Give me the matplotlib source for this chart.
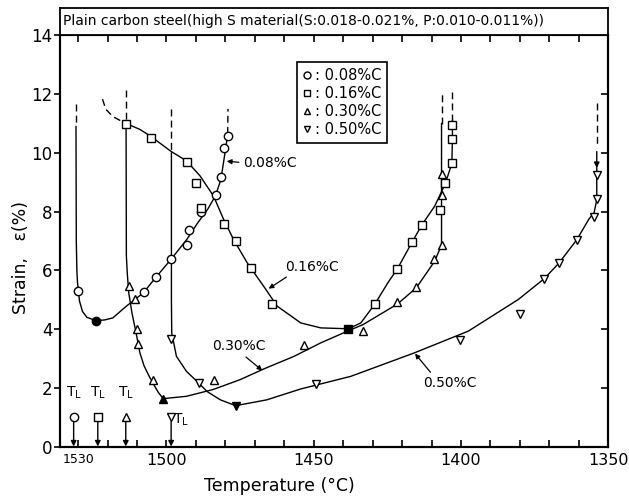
import numpy as np
import matplotlib
matplotlib.use('Agg')
import matplotlib.pyplot as plt
from matplotlib.lines import Line2D

# measured points (temperature degC, strain %)
c08_t = [1529.9, 1507.7, 1503.7, 1498.4, 1493.1, 1492.2, 1488.3, 1483.3, 1481.5, 1480.5, 1479.2]
c08_s = [5.31, 5.27, 5.78, 6.40, 6.88, 7.36, 8.00, 8.57, 9.19, 10.18, 10.57]
c08_min = (1524.0, 4.29)

c16_t = [1513.6, 1505.1, 1492.9, 1490.0, 1488.2, 1480.3, 1476.4, 1471.3, 1464.3,
         1429.3, 1421.6, 1416.6, 1413.2, 1407.2, 1405.3, 1403.1, 1403.0, 1403.0]
c16_s = [11.0, 10.50, 9.68, 8.97, 8.12, 7.57, 6.99, 6.08, 4.87,
         4.84, 6.05, 6.96, 7.56, 8.04, 8.96, 9.64, 10.47, 10.96]
c16_min = (1438.2, 4.01)

c30_t = [1512.6, 1510.8, 1509.9, 1509.6, 1504.6, 1483.7, 1453.3, 1433.3, 1421.6,
         1415.2, 1409.0, 1406.4, 1406.4, 1406.3]
c30_s = [5.48, 5.01, 4.00, 3.49, 2.28, 2.28, 3.45, 3.93, 4.93, 5.43, 6.37, 6.86, 8.56, 9.27]
c30_min = (1501.1, 1.63)

c50_t = [1498.4, 1489.0, 1449.3, 1400.2, 1379.9, 1371.7, 1366.8, 1360.7, 1354.8, 1353.9, 1353.9]
c50_s = [3.67, 2.16, 2.13, 3.64, 4.53, 5.72, 6.24, 7.04, 7.82, 8.44, 9.24]
c50_min = (1476.5, 1.39)

# fitted curves drawn in the figure
c08_line_t = [1530.7, 1530.6, 1530.4, 1530.2, 1529.9, 1529.5, 1528.5, 1527.0, 1524.0, 1521.0,
              1518.2, 1513.6, 1510.5, 1507.7, 1503.7, 1498.4, 1493.1, 1489.5, 1486.0, 1483.3,
              1481.5, 1480.5, 1479.8, 1479.2]
c08_line_s = [10.9, 7.0, 6.0, 5.6, 5.31, 4.95, 4.60, 4.40, 4.29, 4.31,
              4.38, 4.78, 5.02, 5.25, 5.75, 6.38, 7.05, 7.60, 8.08, 8.55,
              9.10, 9.75, 10.20, 10.65]
c08_dash_t = [[1530.7, 1530.7], [1479.2, 1479.1]]
c08_dash_s = [[11.65, 10.9], [10.65, 11.5]]

c16_line_t = [1513.6, 1509.0, 1505.1, 1498.4, 1493.2, 1488.6, 1484.0, 1480.6, 1477.2, 1472.6,
              1467.0, 1462.4, 1454.4, 1447.6, 1438.2, 1434.0, 1429.3, 1424.8, 1421.6, 1416.6,
              1413.2, 1408.9, 1405.3, 1403.1, 1402.9, 1402.9]
c16_line_s = [11.0, 10.80, 10.55, 10.05, 9.73, 9.22, 8.53, 7.74, 7.05, 6.26,
              5.46, 4.78, 4.21, 4.04, 4.01, 4.21, 4.84, 5.58, 6.05, 6.96,
              7.56, 8.19, 8.96, 9.64, 10.47, 11.1]
c16_dash_t = [[1521.7, 1520.6, 1518.2, 1516.0, 1513.6], [1402.9, 1402.9]]
c16_dash_s = [[11.83, 11.49, 11.24, 11.12, 11.0], [11.1, 12.06]]

c30_line_t = [1513.7, 1513.6, 1513.3, 1512.8, 1511.7, 1510.3, 1509.0, 1507.6, 1506.0, 1504.6,
              1502.8, 1501.1, 1493.2, 1484.2, 1474.9, 1467.0, 1456.7, 1447.6, 1438.5, 1433.3,
              1421.6, 1415.2, 1409.0, 1406.6, 1406.6]
c30_line_s = [11.0, 6.5, 5.92, 5.24, 4.55, 3.87, 3.19, 2.75, 2.42, 2.16,
              1.85, 1.63, 1.71, 1.94, 2.28, 2.64, 3.07, 3.53, 3.93, 4.15,
              4.85, 5.40, 6.30, 6.86, 11.0]
c30_dash_t = [[1513.7, 1513.7], [1406.6, 1406.6]]
c30_dash_s = [[12.13, 11.0], [11.0, 12.06]]

c50_line_t = [1498.3, 1498.3, 1498.2, 1496.6, 1493.2, 1489.0, 1486.3, 1481.7, 1476.5, 1465.9,
              1454.4, 1437.4, 1415.8, 1397.5, 1380.5, 1371.7, 1366.8, 1360.7, 1356.6, 1354.8,
              1353.9, 1353.9]
c50_line_s = [10.0, 5.0, 3.87, 3.07, 2.56, 2.16, 1.88, 1.59, 1.39, 1.59,
              1.96, 2.39, 3.19, 3.93, 5.01, 5.72, 6.24, 7.04, 7.74, 7.97,
              8.40, 9.6]
c50_dash_t = [[1498.3, 1498.3], [1353.9, 1353.9]]
c50_dash_s = [[11.5, 10.0], [11.7, 10.3]]

# liquidus temperatures
tl_t = [1531.5, 1523.3, 1513.8, 1498.4]
tl_marks = ['o', 's', '^', 'v']

legend_labels = [': 0.08%C', ': 0.16%C', ': 0.30%C', ': 0.50%C']
title = 'Plain carbon steel(high S material(S:0.018-0.021%, P:0.010-0.011%))'

fig = plt.figure(figsize=(6.29, 4.97), dpi=100)
ax = fig.add_axes([0.096, 0.1016, 0.871, 0.827])

lw = 1.0
mk = dict(ls='none', mfc='white', mec='k', ms=6, mew=1.0, zorder=4)

series = [
    (c08_line_t, c08_line_s, c08_dash_t, c08_dash_s, c08_t, c08_s, c08_min, 'o'),
    (c16_line_t, c16_line_s, c16_dash_t, c16_dash_s, c16_t, c16_s, c16_min, 's'),
    (c30_line_t, c30_line_s, c30_dash_t, c30_dash_s, c30_t, c30_s, c30_min, '^'),
    (c50_line_t, c50_line_s, c50_dash_t, c50_dash_s, c50_t, c50_s, c50_min, 'v'),
]
for lt, ls_, dt, ds, pt, ps, pmin, m in series:
    ax.plot(lt, ls_, 'k-', lw=lw)
    for a, b in zip(dt, ds):
        ax.plot(a, b, color='k', lw=lw, ls=(0, (5, 3)))
    ax.plot(pt, ps, marker=m, **mk)
    ax.plot([pmin[0]], [pmin[1]], marker=m, ls='none', color='k', ms=6, zorder=5)

# arrow on the 0.50%C vertical
ax.annotate('', xy=(c50_t[-1], c50_s[-1] + 0.15), xytext=(c50_t[-1], c50_s[-1] + 0.9),
            arrowprops=dict(arrowstyle='-|>', color='k', lw=lw, mutation_scale=8))

# T_L markers
for t, m in zip(tl_t, tl_marks):
    ax.annotate('', xy=(t, 0.0), xytext=(t, 0.85),
                arrowprops=dict(arrowstyle='-|>', color='k', lw=lw, mutation_scale=8,
                                shrinkA=0, shrinkB=0))
    ax.plot([t], [1.0], marker=m, **mk)
    if m != 'v':
        ax.text(t, 1.55, 'T$_\\mathrm{L}$', ha='center', va='bottom', fontsize=10)
    else:
        ax.text(t - 0.8, 0.9, 'T$_\\mathrm{L}$', ha='left', va='center', fontsize=10)

# curve labels
ap = dict(arrowstyle='-|>', color='k', lw=0.9, mutation_scale=7, shrinkA=1, shrinkB=1)
ax.annotate('0.08%C', xy=(1480.0, 9.72), xytext=(1474.0, 9.67), fontsize=10, va='center',
            arrowprops=dict(ap, relpos=(0, 0.5)))
ax.annotate('0.16%C', xy=(1465.7, 5.35), xytext=(1459.6, 6.13), fontsize=10, va='center',
            arrowprops=dict(ap, relpos=(0.12, 0)))
ax.annotate('0.30%C', xy=(1467.1, 2.56), xytext=(1484.5, 3.41), fontsize=10, va='center',
            arrowprops=dict(ap, relpos=(0.55, 0)))
ax.annotate('0.50%C', xy=(1415.9, 3.2), xytext=(1412.9, 2.16), fontsize=10, va='center',
            arrowprops=dict(ap, relpos=(0.2, 1)))

# legend
handles = [Line2D([], [], marker=m, ls='none', mfc='white', mec='k', ms=5, mew=1.0)
           for m in ['o', 's', '^', 'v']]
leg = ax.legend(handles, legend_labels, loc='upper left', bbox_to_anchor=(0.432, 0.935),
                fontsize=10.5, frameon=True, fancybox=False, framealpha=1, edgecolor='k',
                handlelength=0.6, handletextpad=0.2, labelspacing=0.2, borderpad=0.4,
                borderaxespad=0)
leg.get_frame().set_linewidth(1.2)

ax.set_xlim(1536, 1350)
ax.set_ylim(0, 14)
xt = np.arange(1350, 1531, 10)
ax.set_xticks(xt)
ax.set_xticklabels([str(v) if v in (1350, 1400, 1450, 1500, 1530) else '' for v in xt])
for lab in ax.get_xticklabels():
    if lab.get_text() == '1530':
        lab.set_fontsize(9)
    else:
        lab.set_fontsize(11.5)
ax.tick_params(axis='x', direction='in', top=True, length=5, width=1.2, pad=5)
ax.set_yticks(np.arange(0, 15, 2))
ax.set_yticklabels(['0', '2', '4', '6', '8', '10', '12', '14'])
ax.tick_params(axis='y', direction='out', length=4, width=1.2, labelsize=12, pad=1.5)
ax2 = ax.twinx()
ax2.set_ylim(0, 14)
ax2.set_yticks(np.arange(0, 15, 2))
ax2.tick_params(axis='y', direction='in', length=5, width=1.2, labelright=False)
for a in (ax, ax2):
    for s in a.spines.values():
        s.set_linewidth(1.5)

ax.set_xlabel('Temperature (°C)', fontsize=12.5)
ax.xaxis.set_label_coords(0.40, -0.075)
ax.set_ylabel('Strain,   ε(%)', fontsize=12.5)
ax.yaxis.set_label_coords(-0.055, 0.46)

# title box
tax = fig.add_axes([0.096, 0.9286, 0.871, 0.0563])
tax.set_xticks([])
tax.set_yticks([])
for s in tax.spines.values():
    s.set_linewidth(1.3)
tax.text(0.005, 0.5, title, fontsize=10, va='center', ha='left', transform=tax.transAxes)

fig.savefig('out.png', dpi=100)
